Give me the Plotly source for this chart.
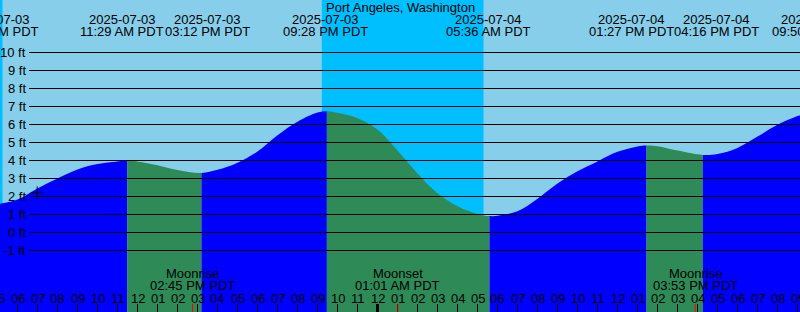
import pandas as pd
import plotly.graph_objects as go

STATION = "Port Angeles, Washington"
TZ = "PDT"

# Tide turning points (time, height in ft)
tide_event_times = ["2025-07-03 04:57", "2025-07-03 11:29", "2025-07-03 15:12",
                    "2025-07-03 21:28", "2025-07-04 05:36", "2025-07-04 13:27",
                    "2025-07-04 16:16", "2025-07-04 21:50"]
tide_event_heights = [1.56, 4.00, 3.31, 6.74, 0.91, 4.83, 4.31, 6.75]

# Hourly water level readings (ft) from 05:00 Jul 3 to 21:00 Jul 4
hourly_start = "2025-07-03 05:00"
hourly_heights = [1.57, 1.84, 2.45, 3.00, 3.50, 3.80, 3.95,
                  3.95, 3.73, 3.47, 3.33, 3.48, 3.88, 4.50,
                  5.40, 6.15, 6.66, 6.65, 6.35,
                  5.72, 4.55, 3.28, 2.18, 1.46, 1.03, 0.93,
                  1.18, 1.88, 2.72, 3.40, 3.95, 4.48, 4.78,
                  4.79, 4.55, 4.34, 4.36, 4.70, 5.33, 5.98, 6.47]

# Sun and moon
sunset_times = ["2025-07-02 21:14", "2025-07-03 21:13"]
sunrise_times = ["2025-07-03 05:15", "2025-07-04 05:18"]
moon_times = ["2025-07-03 14:45", "2025-07-04 01:01", "2025-07-04 15:53"]
moon_kinds = ["Moonrise", "Moonset", "Moonrise"]

# Axis labels
level_ticks = [10, 9, 8, 7, 6, 5, 4, 3, 2, 1, 0, -1]

# ---- layout / style settings ----
X_RANGE = ["2025-07-03 05:07:30", "2025-07-04 21:07:30"]
Y_RANGE = [-4.4167, 12.9167]
W, H = 800, 312
FONT = dict(family="Liberation Sans, Arial, sans-serif", size=13, color="black")
DAY = "#87CEEB"
NIGHT = "#00BFFF"
RISING = "#0000FF"
FALLING = "#2E8B57"
label_nudge_px = [0, -5, 6, -1, -1, -15, 14, 0]

t0 = pd.Timestamp(X_RANGE[0])
t1 = pd.Timestamp(X_RANGE[1])


def frac(ts):
    return (pd.Timestamp(ts) - t0) / (t1 - t0)


def py(px):
    return 1 - px / H


ev_t = pd.to_datetime(tide_event_times)
hr_t = pd.date_range(hourly_start, periods=len(hourly_heights), freq="h")
# readings that fall very close to a turning point are left to the turning point
keep = [(t, h) for t, h in zip(hr_t, hourly_heights)
        if min(abs((t - e).total_seconds()) for e in ev_t) > 20 * 60]
pts = sorted(keep + list(zip(ev_t, tide_event_heights)))
curve_x = [t for t, _ in pts]
curve_y = [h for _, h in pts]

fig = go.Figure()
# empty trace on the main axes (used by shapes)
fig.add_trace(go.Scatter(x=[t0], y=[None], mode="lines", showlegend=False, hoverinfo="skip"))

layout_axes = {}
# tide fill: the same continuous curve, shown in one window per rise/fall
for i in range(len(ev_t) - 1):
    a, b = max(ev_t[i], t0), min(ev_t[i + 1], t1)
    color = RISING if tide_event_heights[i + 1] > tide_event_heights[i] else FALLING
    n = i + 2
    layout_axes[f"xaxis{n}"] = dict(type="date", domain=[frac(a), frac(b)], range=[a, b],
                                    anchor="y", visible=False, fixedrange=True)
    fig.add_trace(go.Scatter(x=[curve_x[0], curve_x[-1]], y=[-8, -8], mode="lines",
                             xaxis=f"x{n}", line=dict(width=0),
                             hoverinfo="skip", showlegend=False))
    fig.add_trace(go.Scatter(x=curve_x, y=curve_y, xaxis=f"x{n}",
                             mode="lines", line=dict(width=0, shape="spline", color=color),
                             fill="tonexty", fillcolor=color,
                             hoverinfo="skip", showlegend=False))
    if i == 0:
        # small "+" mark
        fig.add_trace(go.Scatter(x=[pd.Timestamp("2025-07-03 06:59")], y=[2.21],
                                 xaxis=f"x{n}", mode="markers",
                                 marker=dict(symbol="cross-thin", size=9,
                                             line=dict(width=1, color="black")),
                                 hoverinfo="skip", showlegend=False))

shapes = []
# night backgrounds
for ss, sr in zip(sunset_times, sunrise_times):
    shapes.append(dict(type="rect", xref="x", yref="paper", x0=ss, x1=sr, y0=0, y1=1,
                       fillcolor=NIGHT, line=dict(width=0), layer="below"))
# level lines
for lv in level_ticks:
    shapes.append(dict(type="line", xref="paper", yref="y", x0=29 / W, x1=1, y0=lv, y1=lv,
                       line=dict(color="black", width=1), layer="above"))
# hour ticks
hours = pd.date_range("2025-07-03 05:00", "2025-07-04 22:00", freq="h")
for h in hours:
    if h.hour == 0:
        continue
    shapes.append(dict(type="line", xref="x", yref="paper", x0=h, x1=h, y0=0, y1=8 / H,
                       line=dict(color="black", width=1), layer="above"))
for h in hours:
    if h.hour == 0:
        shapes.append(dict(type="line", xref="x", yref="paper", x0=h, x1=h, y0=0, y1=8 / H,
                           line=dict(color="black", width=3), layer="above"))
# moon ticks
for mt in moon_times:
    shapes.append(dict(type="line", xref="x", yref="paper", x0=mt, x1=mt, y0=0, y1=8 / H,
                       line=dict(color="red", width=1), layer="above"))

ann = []
ann.append(dict(text=STATION, xref="paper", yref="paper", x=0.5, y=py(7),
                xanchor="center", yanchor="middle", showarrow=False, font=FONT))
for t, nudge in zip(ev_t, label_nudge_px):
    for txt, ypx in ((t.strftime("%Y-%m-%d"), 19.5),
                     (t.strftime("%I:%M %p ") + TZ, 31.5)):
        ann.append(dict(text=txt, xref="paper", yref="paper", x=frac(t), y=py(ypx),
                        xshift=nudge, xanchor="center", yanchor="middle",
                        showarrow=False, font=FONT))
for lv in level_ticks:
    ann.append(dict(text=f"{lv} ft", xref="paper", yref="y", x=28.5 / W, y=lv,
                    xanchor="right", yanchor="middle", showarrow=False, font=FONT))
for h in hours:
    ann.append(dict(text=h.strftime("%I"), xref="paper", yref="paper", x=frac(h), y=py(298),
                    xanchor="center", yanchor="middle", showarrow=False, font=FONT))
for mt, kind in zip(moon_times, moon_kinds):
    m = pd.Timestamp(mt)
    ann.append(dict(text=kind, xref="paper", yref="paper", x=frac(m), y=py(273.5),
                    xanchor="center", yanchor="middle", showarrow=False, font=FONT))
    ann.append(dict(text=m.strftime("%I:%M %p ") + TZ, xref="paper", yref="paper",
                    x=frac(m), y=py(285.5),
                    xanchor="center", yanchor="middle", showarrow=False, font=FONT))

fig.update_layout(
    width=W, height=H, margin=dict(l=0, r=0, t=0, b=0),
    paper_bgcolor=DAY, plot_bgcolor="rgba(0,0,0,0)",
    xaxis=dict(type="date", range=X_RANGE, visible=False, fixedrange=True),
    yaxis=dict(range=Y_RANGE, visible=False, fixedrange=True),
    shapes=shapes, annotations=ann, font=FONT, showlegend=False,
    **layout_axes,
)

fig.write_html("out.html", config={"displayModeBar": False})
